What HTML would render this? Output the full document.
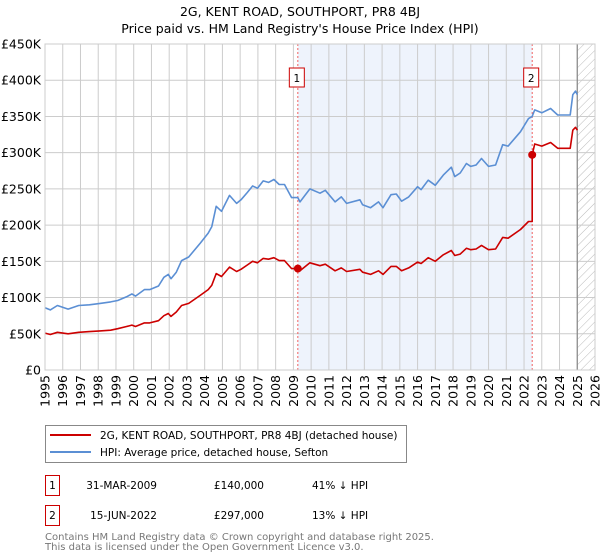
<!DOCTYPE html>
<html><head><meta charset="utf-8">
<style>
body{margin:0;background:#fff;font-family:"DejaVu Sans","Liberation Sans",sans-serif;}
#wrap{position:relative;width:600px;height:560px;overflow:hidden;}
</style></head>
<body><div id="wrap">
<svg id="chart" width="600" height="560" xmlns="http://www.w3.org/2000/svg" font-family="DejaVu Sans, Liberation Sans, sans-serif">
<defs>
<pattern id="hatch" width="6" height="6" patternUnits="userSpaceOnUse" patternTransform="rotate(45)">
<line x1="0" y1="0" x2="0" y2="6" stroke="#bbb" stroke-width="1"/>
</pattern>
</defs>
<text x="300" y="16" text-anchor="middle" font-size="12.5" fill="#000">2G, KENT ROAD, SOUTHPORT, PR8 4BJ</text>
<text x="300" y="33" text-anchor="middle" font-size="12.5" fill="#000">Price paid vs. HM Land Registry's House Price Index (HPI)</text>
<g id="plot"></g>
<g>
<rect x="45.5" y="425.5" width="361" height="37" fill="#fff" stroke="#888"/>
<line x1="50" y1="435" x2="91" y2="435" stroke="#cc0000" stroke-width="2"/>
<text x="100" y="439" font-size="10.5">2G, KENT ROAD, SOUTHPORT, PR8 4BJ (detached house)</text>
<line x1="50" y1="452" x2="91" y2="452" stroke="#5b8fd4" stroke-width="2"/>
<text x="100" y="456" font-size="10.5">HPI: Average price, detached house, Sefton</text>
</g>
<g font-size="10.5">
<rect x="45.5" y="475.5" width="14" height="20" fill="#fff" stroke="#cc0000"/>
<text x="52.5" y="489" text-anchor="middle">1</text>
<text x="157" y="489" text-anchor="end">31-MAR-2009</text>
<text x="264" y="489" text-anchor="end">£140,000</text>
<text x="312" y="489">41% ↓ HPI</text>
<rect x="45.5" y="505.5" width="14" height="20" fill="#fff" stroke="#cc0000"/>
<text x="52.5" y="519" text-anchor="middle">2</text>
<text x="157" y="519" text-anchor="end">15-JUN-2022</text>
<text x="264" y="519" text-anchor="end">£297,000</text>
<text x="312" y="519">13% ↓ HPI</text>
</g>
<text x="45" y="540" font-size="10" fill="#777">Contains HM Land Registry data © Crown copyright and database right 2025.</text>
<text x="45" y="550" font-size="10" fill="#777">This data is licensed under the Open Government Licence v3.0.</text>
</svg>
</div>
<script>
const yTicks = [0,50000,100000,150000,200000,250000,300000,350000,400000,450000];
const yTickLabels = ["£0","£50K","£100K","£150K","£200K","£250K","£300K","£350K","£400K","£450K"];
const xTicks = [1995,1996,1997,1998,1999,2000,2001,2002,2003,2004,2005,2006,2007,2008,2009,2010,2011,2012,2013,2014,2015,2016,2017,2018,2019,2020,2021,2022,2023,2024,2025,2026];
const years = [1995.0,1995.3,1995.7,1996.3,1996.9,1997.5,1998.1,1998.7,1999.1,1999.6,1999.9,2000.1,2000.6,2000.9,2001.4,2001.7,2001.95,2002.1,2002.4,2002.7,2003.1,2003.75,2004.2,2004.4,2004.65,2004.95,2005.4,2005.8,2006.05,2006.4,2006.7,2006.98,2007.3,2007.6,2007.9,2008.2,2008.5,2008.9,2009.25,2009.37,2009.93,2010.5,2010.8,2011.35,2011.7,2012.0,2012.75,2012.9,2013.35,2013.8,2014.05,2014.5,2014.8,2015.1,2015.5,2016.0,2016.2,2016.6,2017.0,2017.45,2017.9,2018.1,2018.4,2018.75,2019.0,2019.3,2019.6,2020.0,2020.4,2020.8,2021.1,2021.8,2022.25,2022.46,2022.46,2022.6,2023.0,2023.5,2023.9,2024.2,2024.6,2024.75,2024.9,2025.0];
const hpiValues = [86,83,89,84,89,90,92,94,96,101,105,102,111,111,116,128,132,126,135,151,156,175,189,198,226,219,241,230,235,245,254,251,261,259,263,256,256,238,238,232,250,244,248,232,239,230,235,228,224,232,224,242,243,233,239,253,249,262,255,269,280,267,272,285,281,283,292,281,283,311,309,329,347,350,350,359,355,361,352,352,352,380,385,380];
const priceValues = [51,49,52,50,52,53,54,55,57,60,62,60,65,65,68,75,78,74,80,89,92,103,111,117,133,129,142,136,139,145,150,148,154,153,155,151,151,140,140,137,148,144,146,137,141,136,139,135,132,137,132,143,143,137,141,149,147,155,150,159,165,158,160,168,166,167,172,166,167,183,182,194,205,205,297,312,309,314,306,306,306,331,335,331];
const saleYears = [2009.25,2022.46];
const salePrices = [140,297];
const saleLabels = ["1","2"];

const NS="http://www.w3.org/2000/svg";
const L=45,R=595,T=44,B=370;
const xS=y=>L+(y-1995)/(2026-1995)*(R-L);
const yS=v=>B-v/450000*(B-T);
const plot=document.getElementById('plot');
function mk(tag,attrs){const e=document.createElementNS(NS,tag);for(const k in attrs)e.setAttribute(k,attrs[k]);plot.appendChild(e);return e;}

let e=mk('rect',{x:L,y:T,width:R-L,height:B-T,fill:'#fff'});


e=mk('rect',{x:xS(saleYears[0]),y:T,width:xS(saleYears[1])-xS(saleYears[0]),height:B-T,fill:'#eef3fc'});


e=mk('rect',{x:xS(2025.0),y:T,width:R-xS(2025.0),height:B-T,fill:'url(#hatch)'});



yTicks.forEach((v,i)=>{
  let g=mk('line',{x1:L,x2:R,y1:yS(v),y2:yS(v),stroke:'#ccc','stroke-width':1});
  
  
  let t=mk('text',{x:L-4,y:yS(v)+4.5,'text-anchor':'end','font-size':'12.5',fill:'#000'});
  t.textContent=yTickLabels[i];
  
  
});
xTicks.forEach(y=>{
  let g=mk('line',{x1:xS(y),x2:xS(y),y1:T,y2:B,stroke:'#ccc','stroke-width':1});
  
  
  let t=mk('text',{x:0,y:0,'text-anchor':'end','font-size':'12.5',fill:'#000',transform:`translate(${xS(y)+4.5},${B+5}) rotate(-90)`});
  t.textContent=y;
  
  
});
e=mk('line',{x1:xS(2025.0),x2:xS(2025.0),y1:T,y2:B,stroke:'#888','stroke-width':1.2});



saleYears.forEach((y,i)=>{
  let l=mk('line',{x1:xS(y),x2:xS(y),y1:T,y2:B,stroke:'#f06060','stroke-width':1,'stroke-dasharray':'2,2'});
  
  
});

function path(vals,color,name){
  const d=years.map((y,i)=>(i?'L':'M')+xS(y).toFixed(1)+','+yS(vals[i]*1000).toFixed(1)).join(' ');
  let p=mk('path',{d:d,fill:'none',stroke:color,'stroke-width':1.6,'stroke-linejoin':'round'});
  
  
}
path(hpiValues,'#5b8fd4','hpi-line');
path(priceValues,'#cc0000','price-paid-line');

saleYears.forEach((y,i)=>{
  let c=mk('circle',{cx:xS(y),cy:yS(salePrices[i]*1000),r:4,fill:'#cc0000'});
  
  
  let b=mk('rect',{x:xS(y)-8.5,y:68,width:15,height:19,fill:'#fff',stroke:'#cc0000'});
  
  
  let t=mk('text',{x:xS(y)-1,y:82,'text-anchor':'middle','font-size':'10.5',fill:'#000'});
  t.textContent=saleLabels[i];
  
  
});
e=mk('rect',{x:L,y:T,width:R-L,height:B-T,fill:'none',stroke:'#ccc'});


</script>
</body></html>
